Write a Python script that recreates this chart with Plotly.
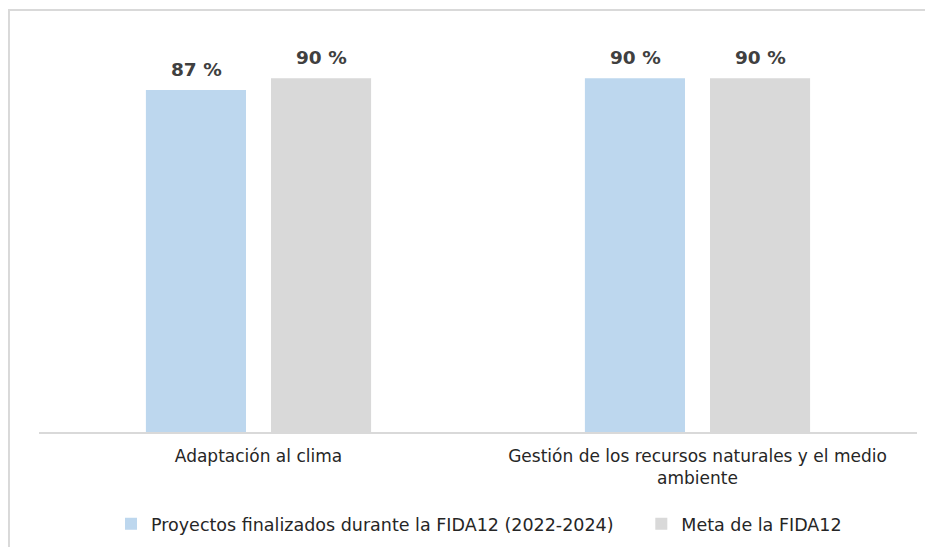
import plotly.graph_objects as go

categories = ["Adaptación al clima",
              "Gestión de los recursos naturales y el medio<br>ambiente"]
proyectos = [87, 90]
meta = [90, 90]
series_names = ["Proyectos finalizados durante la FIDA12 (2022-2024)", "Meta de la FIDA12"]
colors = ["#BDD7EE", "#D9D9D9"]
legend_ids = ["legend", "legend2"]

fig = go.Figure()
for name, vals, col, lg in zip(series_names, [proyectos, meta], colors, legend_ids):
    fig.add_trace(go.Bar(name=name, x=categories, y=vals, marker=dict(color=col, line=dict(width=0)),
                         hoverinfo="skip", legend=lg))

# data labels above bars
offsets = [-62.5, 62.5]
for vals, off in zip([proyectos, meta], offsets):
    for c, v in zip(categories, vals):
        fig.add_annotation(x=c, y=v, text=f"<b>{v} %</b>", showarrow=False, xref="x", yref="y",
                           xshift=off, yanchor="bottom", yshift=8,
                           font=dict(family="DejaVu Sans", size=18.5, color="#404040"))

# outer frame
fig.add_shape(type="rect", xref="paper", yref="paper", x0=-0.0342, x1=1.2, y0=-0.6, y1=1.0738,
              line=dict(color="#D9D9D9", width=2), fillcolor="rgba(0,0,0,0)", layer="below")

leg_common = dict(orientation="h", xanchor="left", y=-0.188, yanchor="top",
                  font=dict(size=17.5, color="#262626"), itemwidth=30, bgcolor="rgba(0,0,0,0)")

fig.update_layout(
    width=925, height=539,
    margin=dict(l=31, r=16, t=31, b=115, autoexpand=False),
    paper_bgcolor="white", plot_bgcolor="white",
    barmode="group", bargap=0.43, bargroupgap=0.2,
    font=dict(family="DejaVu Sans", size=17, color="#262626"),
    showlegend=True,
    legend=dict(x=0.082, **leg_common),
    legend2=dict(x=0.686, **leg_common),
    xaxis=dict(showline=True, linecolor="#D9D9D9", linewidth=1.5, ticks="", showgrid=False,
               tickfont=dict(size=17, color="#262626"), ticklabelstandoff=8, fixedrange=True),
    yaxis=dict(range=[0, 100], visible=False, showgrid=False, fixedrange=True),
)

fig.write_html("out.html")
